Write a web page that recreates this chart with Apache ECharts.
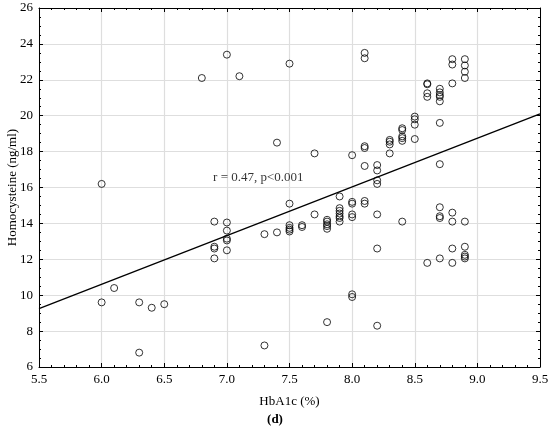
<!DOCTYPE html>
<html>
<head>
<meta charset="utf-8">
<script src="https://cdn.jsdelivr.net/npm/echarts@6/dist/echarts.min.js"></script>
<style>
  html, body { margin: 0; padding: 0; background: #fff; }
  #chart { width: 550px; height: 428px; }
</style>
</head>
<body>
<div id="chart"></div>
<script>
// HbA1c (%) and homocysteine (ng/ml), one entry per patient
const hba1c = [
  6.0, 6.0, 6.1, 6.3, 6.3, 6.4, 6.5, 6.8,
  6.9, 6.9, 6.9, 6.9,
  7.0, 7.0, 7.0, 7.0, 7.0, 7.0, 7.1,
  7.3, 7.3, 7.4, 7.4,
  7.5, 7.5, 7.5, 7.5, 7.5, 7.5,
  7.6, 7.6, 7.7, 7.7,
  7.8, 7.8, 7.8, 7.8, 7.8, 7.8,
  7.9, 7.9, 7.9, 7.9, 7.9, 7.9, 7.9,
  8.0, 8.0, 8.0, 8.0, 8.0, 8.0, 8.0,
  8.1, 8.1, 8.1, 8.1, 8.1, 8.1, 8.1,
  8.2, 8.2, 8.2, 8.2, 8.2, 8.2, 8.2,
  8.3, 8.3, 8.3, 8.3,
  8.4, 8.4, 8.4, 8.4, 8.4, 8.4,
  8.5, 8.5, 8.5, 8.5,
  8.6, 8.6, 8.6, 8.6, 8.6,
  8.7, 8.7, 8.7, 8.7, 8.7, 8.7, 8.7, 8.7, 8.7, 8.7, 8.7,
  8.8, 8.8, 8.8, 8.8, 8.8, 8.8, 8.8,
  8.9, 8.9, 8.9, 8.9, 8.9, 8.9, 8.9, 8.9, 8.9
];
const homocysteine = [
  16.2, 9.6, 10.4, 9.6, 6.8, 9.3, 9.5, 22.1,
  14.1, 12.7, 12.6, 12.05,
  23.4, 14.05, 13.6, 13.15, 13.05, 12.5, 22.2,
  13.4, 7.2, 18.5, 13.5,
  22.9, 15.1, 13.9, 13.75, 13.65, 13.55,
  13.9, 13.8, 17.9, 14.5,
  14.2, 14.1, 13.95, 13.85, 13.7, 8.5,
  15.5, 14.85, 14.7, 14.55, 14.4, 14.3, 14.1,
  17.8, 15.2, 15.1, 14.5, 14.35, 10.05, 9.9,
  23.5, 23.2, 18.3, 18.2, 17.2, 15.25, 15.1,
  17.25, 16.95, 16.4, 16.2, 14.5, 12.6, 8.3,
  18.65, 18.55, 18.4, 17.9,
  19.3, 19.2, 18.85, 18.75, 18.6, 14.1,
  19.95, 19.8, 19.5, 18.7,
  21.8, 21.75, 21.25, 21.05, 11.8,
  21.5, 21.3, 21.15, 21.05, 20.8, 19.6, 17.3, 14.9, 14.4, 14.3, 12.05,
  23.15, 22.85, 21.8, 14.6, 14.1, 12.6, 11.8,
  23.15, 22.8, 22.45, 22.1, 14.1, 12.7, 12.25, 12.15, 12.05
];
// regression line end points
const fitX = [5.5, 9.5];
const fitY = [9.25, 20.1];
const noteText = 'r = 0.47, p<0.001';
const notePos = [6.89, 16.55];

const points = hba1c.map((x, i) => [x, homocysteine[i]]);
const fitLine = fitX.map((x, i) => [x, fitY[i]]);

const font = 'Liberation Serif, Times New Roman, serif';
const gridLine = { show: true, lineStyle: { color: '#dedede', width: 1.2 } };

const chart = echarts.init(document.getElementById('chart'));
chart.setOption({
  animation: false,
  textStyle: { fontFamily: font },
  title: {
    text: '(d)',
    left: 'center',
    top: 408,
    textStyle: { fontFamily: font, fontSize: 13, fontWeight: 'bold', color: '#000' }
  },
  grid: { left: 39, right: 10, top: 8, bottom: 61, containLabel: false, outerBoundsMode: 'none' },
  xAxis: [{
    type: 'value', min: 5.5, max: 9.5, interval: 0.5,
    name: 'HbA1c (%)', nameLocation: 'middle', nameGap: 28, nameMoveOverlap: false,
    nameTextStyle: { fontFamily: font, fontSize: 13, color: '#000' },
    axisLine: { lineStyle: { color: '#000', width: 1 } },
    axisTick: { inside: true, length: 4, lineStyle: { color: '#000' } },
    minorTick: { show: true, splitNumber: 5, length: 2, lineStyle: { color: '#000' } },
    axisLabel: { fontFamily: font, fontSize: 13, color: '#000', margin: 6,
      formatter: v => v.toFixed(1) },
    splitLine: gridLine
  }, {
    type: 'value', position: 'top', min: 5.5, max: 9.5, interval: 0.5,
    axisLine: { show: true, lineStyle: { color: '#000', width: 1 } },
    axisTick: { show: true, inside: true, length: 4, lineStyle: { color: '#000' } },
    minorTick: { show: true, splitNumber: 5, length: 2, lineStyle: { color: '#000' } },
    axisLabel: { show: false },
    splitLine: { show: false }
  }],
  yAxis: [{
    type: 'value', min: 6, max: 26, interval: 2,
    name: 'Homocysteine (ng/ml)', nameLocation: 'middle', nameGap: 20, nameMoveOverlap: false,
    nameTextStyle: { fontFamily: font, fontSize: 13, color: '#000' },
    axisLine: { show: true, lineStyle: { color: '#000', width: 1 } },
    axisTick: { show: true, inside: true, length: 4, lineStyle: { color: '#000' } },
    minorTick: { show: true, splitNumber: 4, length: 2, lineStyle: { color: '#000' } },
    axisLabel: { fontFamily: font, fontSize: 13, color: '#000', margin: 6 },
    splitLine: gridLine
  }, {
    type: 'value', position: 'right', min: 6, max: 26, interval: 2,
    axisLine: { show: true, lineStyle: { color: '#000', width: 1 } },
    axisTick: { show: true, inside: true, length: 4, lineStyle: { color: '#000' } },
    minorTick: { show: true, splitNumber: 4, length: 2, lineStyle: { color: '#000' } },
    axisLabel: { show: false },
    splitLine: { show: false }
  }],
  series: [{
    type: 'line',
    data: fitLine,
    showSymbol: false,
    lineStyle: { color: '#000', width: 1.3 },
    z: 3
  }, {
    type: 'scatter',
    data: points,
    symbol: 'circle',
    symbolSize: 7,
    itemStyle: { color: 'rgba(255,255,255,0)', borderColor: '#000', borderWidth: 1 },
    z: 4
  }, {
    type: 'scatter',
    data: [notePos],
    symbolSize: 0,
    silent: true,
    label: {
      show: true, position: 'right', distance: 0,
      formatter: noteText,
      fontFamily: font, fontSize: 13, color: '#000'
    },
    z: 5
  }]
});
</script>
</body>
</html>
